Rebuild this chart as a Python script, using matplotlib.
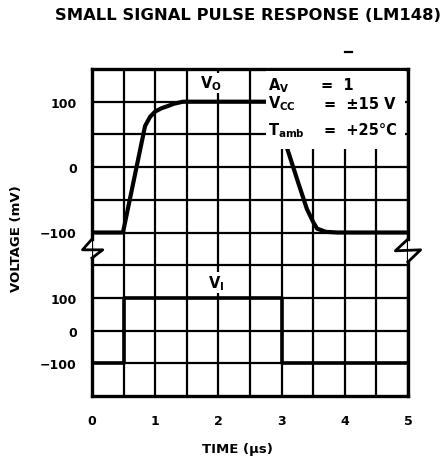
import numpy as np
import matplotlib
matplotlib.use("Agg")
import matplotlib.pyplot as plt
from matplotlib.patches import Rectangle
from matplotlib.lines import Line2D

plt.rcParams['font.family'] = 'DejaVu Sans'
plt.rcParams['font.weight'] = 'bold'
plt.rcParams['mathtext.fontset'] = 'custom'
plt.rcParams['mathtext.rm'] = 'DejaVu Sans:bold'
plt.rcParams['mathtext.it'] = 'DejaVu Sans:bold'
plt.rcParams['mathtext.bf'] = 'DejaVu Sans:bold'

# output voltage V_O (mV), upper panel
vo_t = [0, 0.49, 0.84, 0.92, 1.0, 1.1, 1.19, 1.3, 1.44, 2.85, 3.09, 3.26, 3.40, 3.50, 3.56, 3.70, 3.88, 5.0]
vo_mv = [-100, -100, 63, 77, 85, 90, 93, 97, 100, 100, 28, -23, -64, -84, -94, -99, -100, -100]

# input pulse V_I (mV), lower panel
vi_t = [0, 0.5, 0.5, 3.0, 3.0, 5.0]
vi_mv = [-100, -100, 100, 100, -100, -100]

x_ticks = [0, 1, 2, 3, 4, 5]
x_minor = [0.5, 1.5, 2.5, 3.5, 4.5]
top_ticks = [-100, 0, 100]
top_minor = [-50, 50]
bot_ticks = [-100, 0, 100]
bot_minor = [200]
tick_labels = ['\u2212100', '0', '100']

W, H = 443, 464
fig = plt.figure(figsize=(W / 100, H / 100), dpi=100)

left_px, right_px = 92, 408
bottom_px, top_px = 397, 70
row = (bottom_px - top_px) / 10.0
split_px = bottom_px - 4.5 * row

ax_b = fig.add_axes([left_px / W, (H - bottom_px) / H, (right_px - left_px) / W, (bottom_px - split_px) / H])
ax_t = fig.add_axes([left_px / W, (H - split_px) / H, (right_px - left_px) / W, (split_px - top_px) / H])

ax_t.set_ylim(-125, 150)
ax_b.set_ylim(-200, 250)

for ax, major, minor in [(ax_t, top_ticks, top_minor), (ax_b, bot_ticks, bot_minor)]:
    ax.set_xlim(0, 5)
    ax.set_xticks(x_ticks)
    ax.set_xticks(x_minor, minor=True)
    ax.set_yticks(major)
    ax.set_yticks(minor, minor=True)
    ax.set_yticklabels(tick_labels)
    ax.set_axisbelow(True)
    ax.grid(True, which='both', color='black', linewidth=1.6)
    ax.tick_params(which='both', length=0)
    ax.tick_params(axis='y', pad=11, labelsize=9)
    ax.tick_params(axis='x', pad=13, labelsize=9)
    for s in ax.spines.values():
        s.set_linewidth(2.4)

ax_t.tick_params(axis='x', labelbottom=False)
ax_t.spines['bottom'].set_visible(False)
ax_b.spines['top'].set_visible(False)

# gaps in the side borders for the axis break
ax_t.spines['left'].set_bounds(-110, 150)
ax_t.spines['right'].set_bounds(-110, 150)
ax_b.spines['left'].set_bounds(-200, 222)
ax_b.spines['right'].set_bounds(-200, 210)

# break zigzags
zl = Line2D([0, -0.15, 0.17, 0], [-110, -126.5, -126.5, -139], color='black', lw=2.0,
            transform=ax_t.transData, clip_on=False)
zr = Line2D([5, 4.8, 5.2, 5], [-110, -128, -126.5, -145], color='black', lw=2.0,
            transform=ax_t.transData, clip_on=False)
ax_t.add_line(zl)
ax_t.add_line(zr)

ax_t.plot(vo_t, vo_mv, color='black', lw=3.0, solid_joinstyle='round', zorder=2)
ax_b.plot(vi_t, vi_mv, color='black', lw=2.6, zorder=2)

# white area behind the conditions text
ax_t.add_patch(Rectangle((2.75, 27.5), 2.2, 119, facecolor='white', edgecolor='none', zorder=3))

fs = 10.5
ax_t.text(2.78, 119, r'$\mathrm{A_V}$', fontsize=fs, va='baseline', zorder=4)
ax_t.text(3.62, 119, '=  1', fontsize=fs, va='baseline', zorder=4)
ax_t.text(2.78, 91, r'$\mathrm{V_{CC}}$', fontsize=fs, va='baseline', zorder=4)
ax_t.text(3.67, 91, '=  \u00b115 V', fontsize=fs, va='baseline', zorder=4)
ax_t.text(2.78, 50, r'$\mathrm{T_{amb}}$', fontsize=fs, va='baseline', zorder=4)
ax_t.text(3.67, 50, '=  +25\u00b0C', fontsize=fs, va='baseline', zorder=4)

ax_t.text(1.71, 122, r'$\mathrm{V_O}$', fontsize=fs, va='baseline', zorder=4,
          bbox=dict(facecolor='white', edgecolor='none', pad=0.5))
ax_b.text(1.84, 133, r'$\mathrm{V_I}$', fontsize=fs, va='baseline', zorder=4,
          bbox=dict(facecolor='white', edgecolor='none', pad=0.5))

fig.text(248 / W, 1 - 15 / H, 'SMALL SIGNAL PULSE RESPONSE (LM148)', ha='center', va='center',
         fontsize=11.8, fontweight='heavy')
fig.text(237 / W, 1 - 450 / H, 'TIME (\u00b5s)', ha='center', va='center', fontsize=9.5, fontweight='bold')
fig.text(17 / W, 1 - 239 / H, 'VOLTAGE (mV)', ha='center', va='center', rotation=90,
         fontsize=9.5, fontweight='bold')
fig.add_artist(Line2D([345 / W, 352 / W], [1 - 53 / H, 1 - 53 / H], color='black', lw=1.6))

fig.savefig('out.png', dpi=100)
